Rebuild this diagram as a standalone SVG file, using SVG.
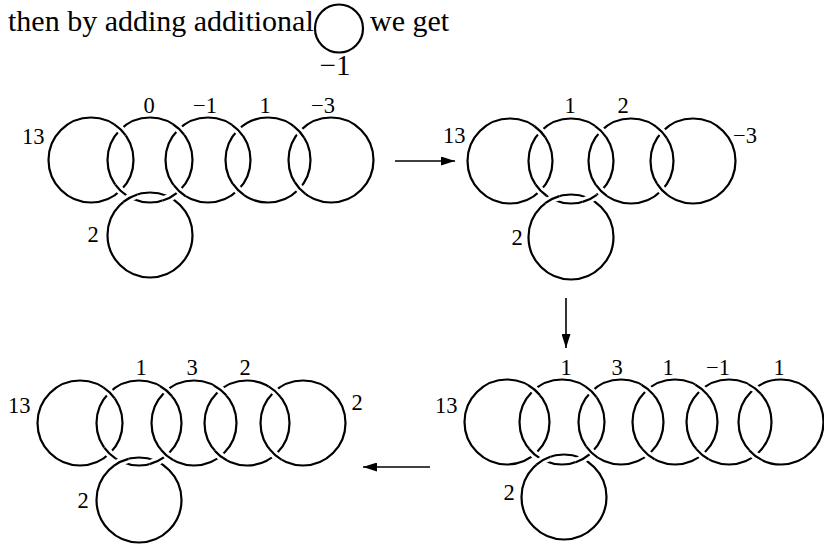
<svg xmlns="http://www.w3.org/2000/svg" xmlns:xlink="http://www.w3.org/1999/xlink" width="824" height="544" viewBox="0 0 824 544">
<style>
.c{fill:none;stroke:#000;stroke-width:2.2}
.t{font-family:"Liberation Serif","Times New Roman",serif;font-size:22.5px;fill:#000}
.h{font-family:"Liberation Serif","Times New Roman",serif;font-size:30px;fill:#000}
.m{text-anchor:middle}
.a{stroke:#000;stroke-width:1.6;fill:none;marker-end:url(#ah)}
</style>
<defs>
<marker id="ah" markerUnits="userSpaceOnUse" markerWidth="14" markerHeight="9" refX="14" refY="4.5" orient="auto">
<path d="M0,0 L14,4.5 L0,9 z" fill="#000"/>
</marker>
<g id="ov">
<path d="M41.75,-7.94 A42.5,42.5 0 0 1 41.75,7.94" fill="none" stroke="#fff" stroke-width="8"/>
<path d="M41.75,-7.94 A42.5,42.5 0 0 1 41.75,7.94" fill="none" stroke="#000" stroke-width="2.2"/>
</g>
</defs>
<rect width="824" height="544" fill="#fff"/>

<g id="header">
<text class="h" x="8" y="31">then by adding additional</text>
<circle class="c" cx="339" cy="28.5" r="24"/>
<text class="h" x="370" y="31">we get</text>
<text class="h m" x="335" y="75" style="font-size:29px">−1</text>
</g>

<!-- Diagram 1 -->
<g id="d1">
<g id="d1-n13"><circle class="c" cx="91" cy="160" r="42.5"/><text class="t" x="22" y="144">13</text></g>
<g id="d1-n0"><circle class="c" cx="150" cy="160" r="42.5"/><text class="t m" x="149" y="113">0</text></g>
<g id="d1-nm1"><circle class="c" cx="208" cy="160" r="42.5"/><text class="t m" x="205" y="113">−1</text></g>
<g id="d1-n1"><circle class="c" cx="268" cy="160" r="42.5"/><text class="t m" x="265" y="113">1</text></g>
<g id="d1-nm3"><circle class="c" cx="331" cy="160" r="42.5"/><text class="t m" x="323" y="113">−3</text></g>
<g id="d1-n2"><circle class="c" cx="150" cy="235" r="42.5"/><text class="t m" x="93" y="242">2</text></g>
<g id="d1-crossings">
<use xlink:href="#ov" transform="translate(91,160) rotate(-46)"/>
<use xlink:href="#ov" transform="translate(150,160) rotate(134)"/>
<use xlink:href="#ov" transform="translate(150,160) rotate(-47)"/>
<use xlink:href="#ov" transform="translate(208,160) rotate(133)"/>
<use xlink:href="#ov" transform="translate(208,160) rotate(-45.1)"/>
<use xlink:href="#ov" transform="translate(268,160) rotate(134.9)"/>
<use xlink:href="#ov" transform="translate(268,160) rotate(-42.2)"/>
<use xlink:href="#ov" transform="translate(331,160) rotate(137.8)"/>
<use xlink:href="#ov" transform="translate(150,235) rotate(-118.1)"/>
<use xlink:href="#ov" transform="translate(150,160) rotate(61.9)"/>
</g>
</g>

<!-- Diagram 2 -->
<g id="d2">
<g id="d2-n13"><circle class="c" cx="510" cy="161" r="42.5"/><text class="t" x="443" y="143">13</text></g>
<g id="d2-n1"><circle class="c" cx="571" cy="161" r="42.5"/><text class="t m" x="570" y="113">1</text></g>
<g id="d2-n2a"><circle class="c" cx="631" cy="161" r="42.5"/><text class="t m" x="623" y="113">2</text></g>
<g id="d2-nm3"><circle class="c" cx="693" cy="161" r="42.5"/><text class="t" x="733" y="143">−3</text></g>
<g id="d2-n2"><circle class="c" cx="571" cy="237" r="42.5"/><text class="t m" x="517" y="245">2</text></g>
<g id="d2-crossings">
<use xlink:href="#ov" transform="translate(510,161) rotate(-44.1)"/>
<use xlink:href="#ov" transform="translate(571,161) rotate(135.9)"/>
<use xlink:href="#ov" transform="translate(571,161) rotate(-45.1)"/>
<use xlink:href="#ov" transform="translate(631,161) rotate(134.9)"/>
<use xlink:href="#ov" transform="translate(631,161) rotate(-43.2)"/>
<use xlink:href="#ov" transform="translate(693,161) rotate(136.8)"/>
<use xlink:href="#ov" transform="translate(571,237) rotate(-116.6)"/>
<use xlink:href="#ov" transform="translate(571,161) rotate(63.4)"/>
</g>
</g>

<!-- Diagram 3 -->
<g id="d3">
<g id="d3-n13"><circle class="c" cx="507" cy="422" r="42.5"/><text class="t" x="435" y="413">13</text></g>
<g id="d3-n1a"><circle class="c" cx="562" cy="422" r="42.5"/><text class="t m" x="566" y="375">1</text></g>
<g id="d3-n3"><circle class="c" cx="621" cy="422" r="42.5"/><text class="t m" x="617" y="375">3</text></g>
<g id="d3-n1b"><circle class="c" cx="675" cy="422" r="42.5"/><text class="t m" x="668" y="375">1</text></g>
<g id="d3-nm1"><circle class="c" cx="729" cy="422" r="42.5"/><text class="t m" x="718" y="375">−1</text></g>
<g id="d3-n1c"><circle class="c" cx="781" cy="422" r="42.5"/><text class="t m" x="779" y="375">1</text></g>
<g id="d3-n2"><circle class="c" cx="564" cy="497" r="42.5"/><text class="t m" x="509" y="500">2</text></g>
<g id="d3-crossings">
<use xlink:href="#ov" transform="translate(507,422) rotate(-49.7)"/>
<use xlink:href="#ov" transform="translate(562,422) rotate(130.3)"/>
<use xlink:href="#ov" transform="translate(562,422) rotate(-46)"/>
<use xlink:href="#ov" transform="translate(621,422) rotate(134)"/>
<use xlink:href="#ov" transform="translate(621,422) rotate(-50.5)"/>
<use xlink:href="#ov" transform="translate(675,422) rotate(129.5)"/>
<use xlink:href="#ov" transform="translate(675,422) rotate(-50.5)"/>
<use xlink:href="#ov" transform="translate(729,422) rotate(129.5)"/>
<use xlink:href="#ov" transform="translate(729,422) rotate(-52.3)"/>
<use xlink:href="#ov" transform="translate(781,422) rotate(127.7)"/>
<use xlink:href="#ov" transform="translate(564,497) rotate(-119.6)"/>
<use xlink:href="#ov" transform="translate(562,422) rotate(60.4)"/>
</g>
</g>

<!-- Diagram 4 -->
<g id="d4">
<g id="d4-n13"><circle class="c" cx="80" cy="423" r="42.5"/><text class="t" x="8" y="413">13</text></g>
<g id="d4-n1"><circle class="c" cx="139" cy="423" r="42.5"/><text class="t m" x="141" y="375">1</text></g>
<g id="d4-n3"><circle class="c" cx="194" cy="423" r="42.5"/><text class="t m" x="192" y="375">3</text></g>
<g id="d4-n2a"><circle class="c" cx="247" cy="423" r="42.5"/><text class="t m" x="245" y="375">2</text></g>
<g id="d4-n2b"><circle class="c" cx="303" cy="423" r="42.5"/><text class="t m" x="357" y="410">2</text></g>
<g id="d4-n2"><circle class="c" cx="139" cy="500" r="42.5"/><text class="t m" x="83" y="508">2</text></g>
<g id="d4-crossings">
<use xlink:href="#ov" transform="translate(80,423) rotate(-46)"/>
<use xlink:href="#ov" transform="translate(139,423) rotate(134)"/>
<use xlink:href="#ov" transform="translate(139,423) rotate(-49.7)"/>
<use xlink:href="#ov" transform="translate(194,423) rotate(130.3)"/>
<use xlink:href="#ov" transform="translate(194,423) rotate(-51.4)"/>
<use xlink:href="#ov" transform="translate(247,423) rotate(128.6)"/>
<use xlink:href="#ov" transform="translate(247,423) rotate(-48.8)"/>
<use xlink:href="#ov" transform="translate(303,423) rotate(131.2)"/>
<use xlink:href="#ov" transform="translate(139,500) rotate(-115.1)"/>
<use xlink:href="#ov" transform="translate(139,423) rotate(64.9)"/>
</g>
</g>

<g id="connectors">
<line class="a" x1="395" y1="161" x2="455" y2="161"/>
<line class="a" x1="566" y1="298" x2="566" y2="348"/>
<line class="a" x1="430" y1="467" x2="363" y2="467"/>
</g>
</svg>
